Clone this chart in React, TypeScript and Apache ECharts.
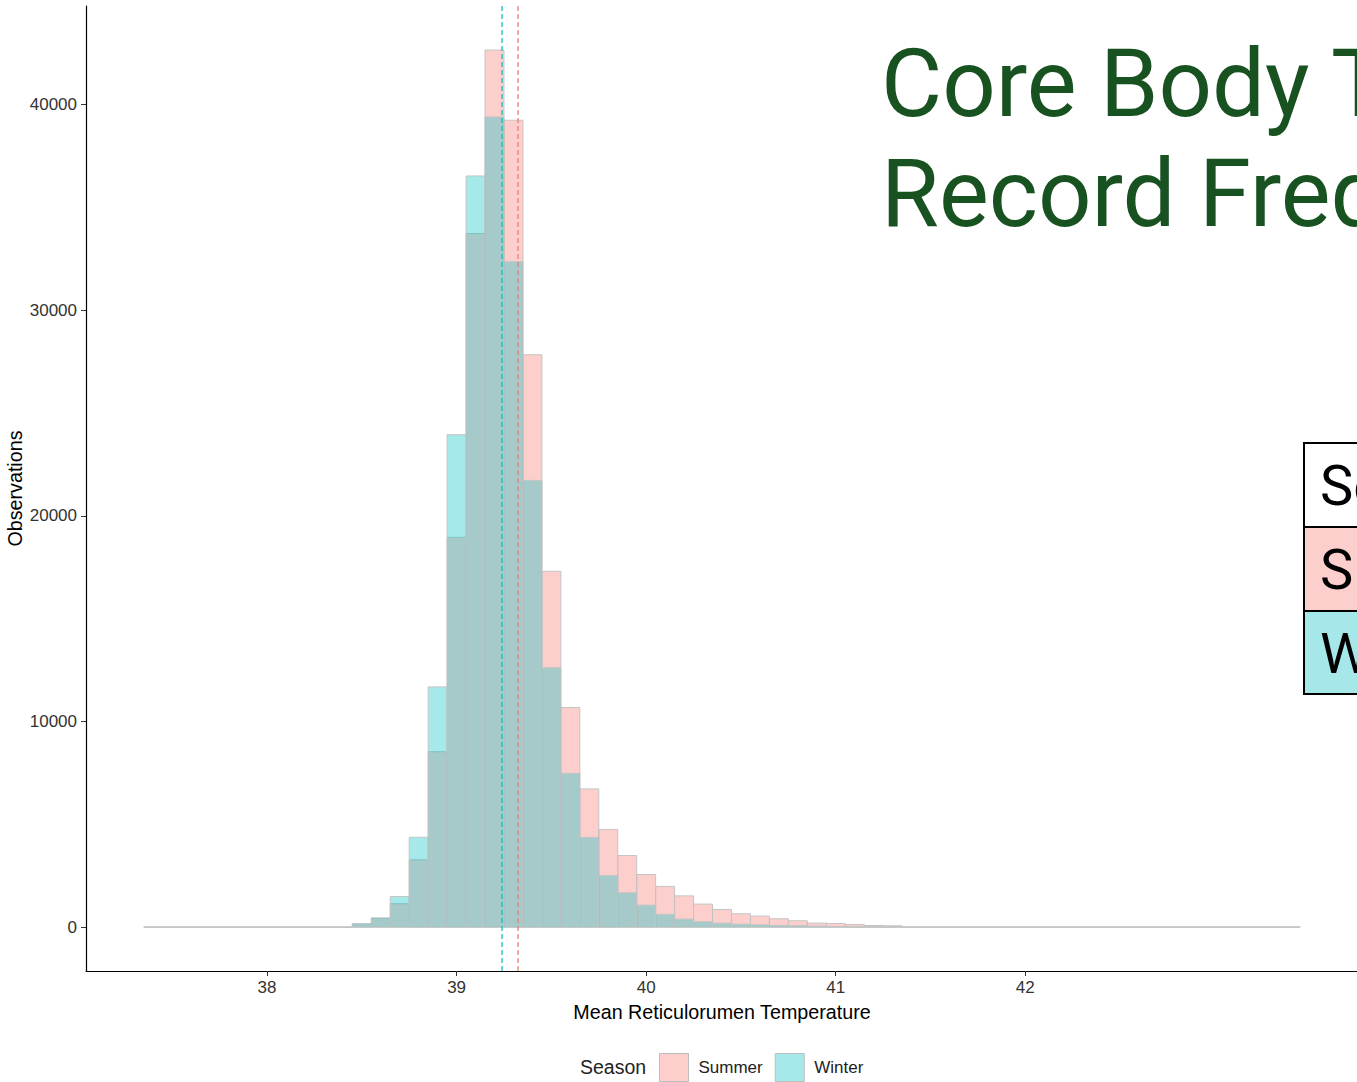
import React, { useEffect, useRef } from "react";
import * as echarts from "echarts";

// Histogram bin centres (bin width 0.1 °C)
const binCenters = [
  37.4, 37.5, 37.6, 37.7, 37.8, 37.9, 38.0, 38.1, 38.2, 38.3, 38.4,
  38.5, 38.6, 38.7, 38.8, 38.9, 39.0, 39.1, 39.2, 39.3, 39.4, 39.5,
  39.6, 39.7, 39.8, 39.9, 40.0, 40.1, 40.2, 40.3, 40.4, 40.5, 40.6,
  40.7, 40.8, 40.9, 41.0, 41.1, 41.2, 41.3, 41.4, 41.5, 41.6, 41.7,
  41.8, 41.9, 42.0, 42.1, 42.2, 42.3, 42.4, 42.5, 42.6, 42.7, 42.8,
  42.9, 43.0, 43.1, 43.2, 43.3, 43.4,
];

const summerCounts = [
  0, 0, 0, 0, 0, 0, 0, 0, 0, 0, 0,
  160, 420, 1140, 3270, 8530, 18950, 33720, 42640, 39230, 27830, 17300,
  10680, 6720, 4750, 3480, 2560, 1980, 1520, 1120, 860, 650, 535,
  405, 310, 195, 180, 130, 80, 65, 0, 0, 0, 0,
  0, 0, 0, 0, 0, 0, 0, 0, 0, 0, 0,
  0, 0, 0, 0, 0, 0,
];

const winterCounts = [
  0, 0, 0, 0, 0, 0, 0, 0, 0, 0, 0,
  170, 450, 1490, 4370, 11680, 23940, 36520, 39390, 32350, 21720, 12610,
  7480, 4360, 2510, 1670, 1070, 620, 390, 260, 195, 145, 113,
  80, 65, 50, 32, 16, 10, 5, 0, 0, 0, 0,
  0, 0, 0, 0, 0, 0, 0, 0, 0, 0, 0,
  0, 0, 0, 0, 0, 0,
];

const seasonMeans = { Summer: 39.324, Winter: 39.236 };
const xTicks = [38, 39, 40, 41, 42];
const yTicks = [0, 10000, 20000, 30000, 40000];
const tableRows = ["Season", "Summer", "Winter"];
const titleLines = ["Core Body Temperature", "Record Frequency"];

const BIN_WIDTH = 0.1;
const SUMMER_FILL = "rgba(248,118,109,0.35)";
const WINTER_FILL = "rgba(0,191,196,0.35)";
const TITLE_FONT = 'Roboto, "Noto Sans", sans-serif';
const BASE_FONT = '"Liberation Sans", Arial, sans-serif';

export default function App() {
  const ref = useRef<HTMLDivElement>(null);

  useEffect(() => {
    if (!ref.current) return;
    const chart = echarts.init(ref.current, undefined, { renderer: "svg" });

    const renderBin = (params: any, api: any) => {
      const c = api.value(0);
      const v = api.value(1);
      const p0 = api.coord([c - BIN_WIDTH / 2, v]);
      const p1 = api.coord([c + BIN_WIDTH / 2, 0]);
      return {
        type: "rect",
        shape: { x: p0[0], y: p0[1], width: p1[0] - p0[0], height: p1[1] - p0[1] },
        style: { fill: api.visual("color"), stroke: "#c4c4c4", lineWidth: 1 },
      };
    };

    const summerData = binCenters.map((c, i) => [c, summerCounts[i]]);
    const winterData = binCenters.map((c, i) => [c, winterCounts[i]]);

    const rowH = [84, 84, 83];
    const rowFill = ["#ffffff", "#fccfcc", "#a6e8ea"];
    let yy = 443;
    const tableEls: any[] = [];
    tableRows.forEach((label, i) => {
      tableEls.push({
        type: "rect",
        shape: { x: 1304, y: yy, width: 400, height: rowH[i] },
        style: { fill: rowFill[i], stroke: "#000", lineWidth: 2 },
        z: 10,
      });
      tableEls.push({
        type: "text",
        x: 1320,
        y: yy + rowH[i] / 2 + 1,
        style: {
          text: label,
          fill: "#000",
          fontSize: 56,
          fontFamily: TITLE_FONT,
          verticalAlign: "middle",
          align: "left",
        },
        z: 11,
      });
      yy += rowH[i];
    });

    const plainNum = (v: number) => String(v);

    chart.setOption({
      animation: false,
      backgroundColor: "#ffffff",
      grid: { left: 86, top: 6, width: 1272, height: 965, containLabel: false, outerBoundsMode: "none" },
      xAxis: {
        type: "value",
        min: 37.045,
        max: 43.755,
        name: "Mean Reticulorumen Temperature",
        nameLocation: "middle",
        nameGap: 31,
        nameMoveOverlap: false,
        nameTextStyle: { color: "#000", fontSize: 19.7, fontFamily: BASE_FONT },
        axisLine: { show: true, onZero: false, lineStyle: { color: "#000", width: 1.2 } },
        axisTick: { show: true, length: 5, customValues: xTicks, lineStyle: { color: "#333" } },
        axisLabel: {
          customValues: xTicks,
          formatter: plainNum,
          color: "#333",
          fontSize: 17,
          fontFamily: BASE_FONT,
          margin: 8,
        },
        splitLine: { show: false },
      },
      yAxis: {
        type: "value",
        min: -2133,
        max: 44783,
        name: "Observations",
        nameLocation: "middle",
        nameGap: 61,
        nameMoveOverlap: false,
        nameTextStyle: { color: "#000", fontSize: 19.7, fontFamily: BASE_FONT },
        axisLine: { show: true, onZero: false, lineStyle: { color: "#000", width: 1.2 } },
        axisTick: { show: true, length: 5, customValues: yTicks, lineStyle: { color: "#333" } },
        axisLabel: {
          customValues: yTicks,
          formatter: plainNum,
          color: "#333",
          fontSize: 17,
          fontFamily: BASE_FONT,
          margin: 9,
        },
        splitLine: { show: false },
      },
      legend: {
        left: 659,
        top: 1053,
        padding: 0,
        itemWidth: 29,
        itemHeight: 28,
        itemGap: 12,
        icon: "rect",
        itemStyle: { borderColor: "#bdbdbd", borderWidth: 1 },
        textStyle: { color: "#222", fontSize: 17, fontFamily: BASE_FONT, padding: [0, 0, 0, 5] },
        data: ["Summer", "Winter"],
      },
      series: [
        {
          name: "Summer",
          type: "custom",
          renderItem: renderBin,
          itemStyle: { color: SUMMER_FILL },
          encode: { x: 0, y: 1 },
          data: summerData,
          markLine: {
            silent: true,
            symbol: "none",
            label: { show: false },
            lineStyle: { color: "rgba(248,118,109,0.85)", type: [5, 3], width: 1.5 },
            data: [{ xAxis: seasonMeans.Summer }],
          },
          z: 2,
        },
        {
          name: "Winter",
          type: "custom",
          renderItem: renderBin,
          itemStyle: { color: WINTER_FILL },
          encode: { x: 0, y: 1 },
          data: winterData,
          markLine: {
            silent: true,
            symbol: "none",
            label: { show: false },
            lineStyle: { color: "rgba(0,191,196,0.85)", type: [5, 3], width: 1.5 },
            data: [{ xAxis: seasonMeans.Winter }],
          },
          z: 3,
        },
      ],
      graphic: [
        {
          type: "text",
          left: 580,
          top: 1057,
          style: { text: "Season", fill: "#222", fontSize: 19.5, fontFamily: BASE_FONT },
        },
        {
          type: "text",
          x: 881,
          y: 29,
          style: {
            text: titleLines.join("\n"),
            fill: "#175220",
            fontSize: 94,
            lineHeight: 110,
            fontFamily: TITLE_FONT,
            verticalAlign: "top",
          },
          z: 10,
        },
        ...tableEls,
      ],
    });

    return () => chart.dispose();
  }, []);

  return (
    <div
      ref={ref}
      style={{ position: "fixed", left: 0, top: 0, width: 1357, height: 1082, overflow: "hidden", background: "#fff" }}
    />
  );
}
